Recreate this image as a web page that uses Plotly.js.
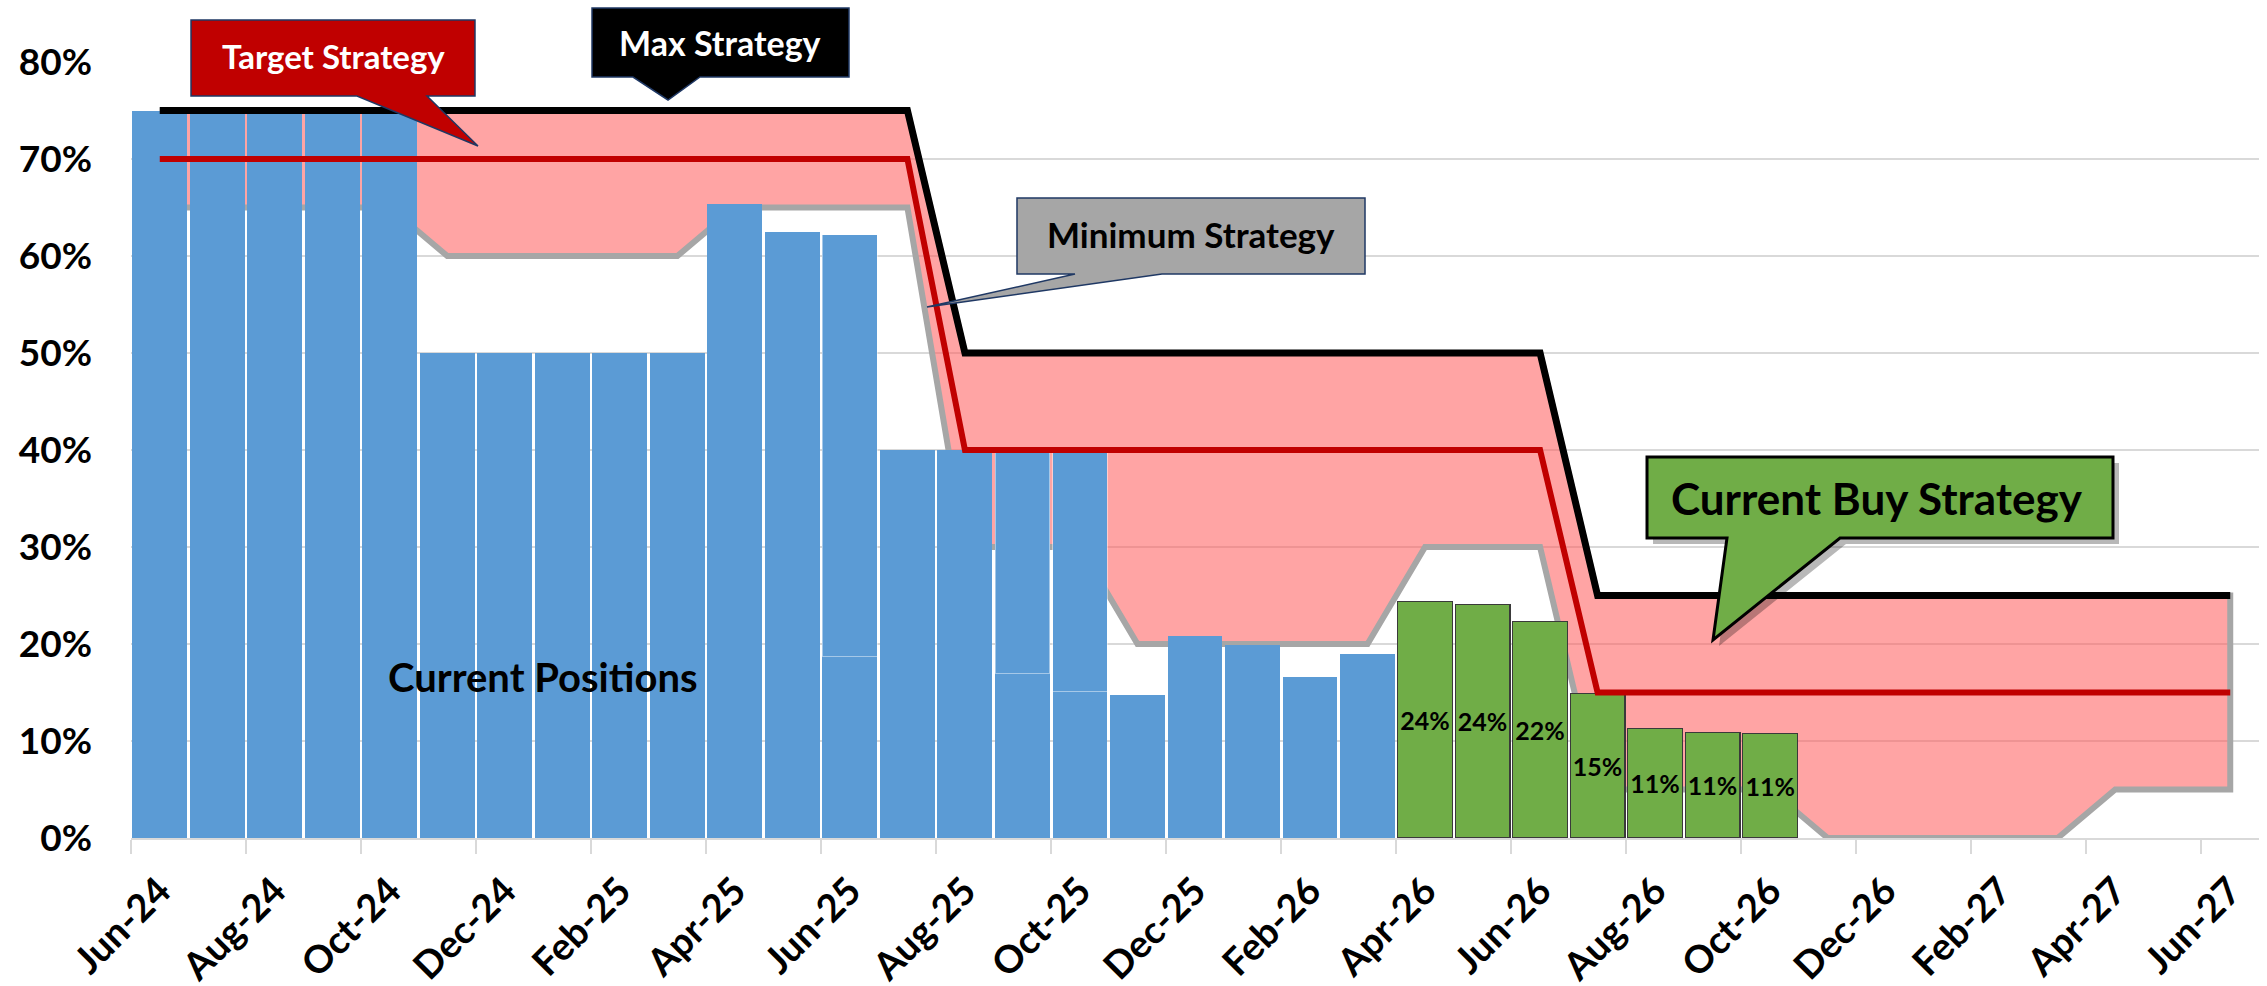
<!DOCTYPE html>
<html>
<head>
<meta charset="utf-8">
<script src="https://cdn.plot.ly/plotly-3.0.1.min.js"></script>
<style>
  html, body { margin: 0; padding: 0; background: #ffffff; }
  #chart { width: 2267px; height: 986px; }
</style>
</head>
<body>
<div id="chart"></div>
<script>
// ---------------- DATA ----------------
const months = ['Jun-24','Jul-24','Aug-24','Sep-24','Oct-24','Nov-24','Dec-24','Jan-25','Feb-25','Mar-25',
  'Apr-25','May-25','Jun-25','Jul-25','Aug-25','Sep-25','Oct-25','Nov-25','Dec-25','Jan-26',
  'Feb-26','Mar-26','Apr-26','May-26','Jun-26','Jul-26','Aug-26','Sep-26','Oct-26','Nov-26',
  'Dec-26','Jan-27','Feb-27','Mar-27','Apr-27','May-27','Jun-27'];

// Current positions (Jun-24 .. Mar-26)
const currentPositions = [0.75, 0.75, 0.75, 0.75, 0.75, 0.50, 0.50, 0.50, 0.50, 0.50,
  0.654, 0.625, 0.622, 0.40, 0.40, 0.40, 0.40, 0.147, 0.208, 0.199, 0.166, 0.190];
// lower stacked part of some position bars (null = single block)
const positionLowerPart = [null, null, null, null, null, null, null, null, null, null,
  null, null, 0.187, null, null, 0.170, 0.151, null, null, null, null, null];

// Current buy strategy (Apr-26 .. Oct-26)
const buyMonths = ['Apr-26','May-26','Jun-26','Jul-26','Aug-26','Sep-26','Oct-26'];
const buyStrategy = [0.244, 0.241, 0.223, 0.149, 0.113, 0.109, 0.108];

const maxStrategy = [0.75, 0.75, 0.75, 0.75, 0.75, 0.75, 0.75, 0.75, 0.75, 0.75, 0.75, 0.75, 0.75, 0.75,
  0.50, 0.50, 0.50, 0.50, 0.50, 0.50, 0.50, 0.50, 0.50, 0.50, 0.50,
  0.25, 0.25, 0.25, 0.25, 0.25, 0.25, 0.25, 0.25, 0.25, 0.25, 0.25, 0.25];
const targetStrategy = [0.70, 0.70, 0.70, 0.70, 0.70, 0.70, 0.70, 0.70, 0.70, 0.70, 0.70, 0.70, 0.70, 0.70,
  0.40, 0.40, 0.40, 0.40, 0.40, 0.40, 0.40, 0.40, 0.40, 0.40, 0.40,
  0.15, 0.15, 0.15, 0.15, 0.15, 0.15, 0.15, 0.15, 0.15, 0.15, 0.15, 0.15];
const minStrategy = [0.65, 0.65, 0.65, 0.65, 0.65, 0.60, 0.60, 0.60, 0.60, 0.60,
  0.65, 0.65, 0.65, 0.65, 0.30, 0.30, 0.30, 0.20, 0.20, 0.20, 0.20, 0.20,
  0.30, 0.30, 0.30, 0.05, 0.05, 0.05, 0.05, 0.00, 0.00, 0.00, 0.00, 0.00, 0.05, 0.05, 0.05];

const yTicks = [0, 0.1, 0.2, 0.3, 0.4, 0.5, 0.6, 0.7, 0.8];

// ---------------- BUILD ----------------
const idx = months.map((m, i) => i);
const posX = currentPositions.map((v, i) => i);
const buyX = buyMonths.map(m => months.indexOf(m));
const posBase = currentPositions.map((v, i) => positionLowerPart[i] != null ? positionLowerPart[i] : v);
const posTop = currentPositions.map((v, i) => positionLowerPart[i] != null ? v - positionLowerPart[i] : null);

const labelIdx = idx.filter(i => i % 2 === 0);
const boundaryTicks = labelIdx.map(i => i - 0.5);

const FONT = 'Lato, "Open Sans", "DejaVu Sans", sans-serif';
const BLUE = '#5B9BD5', GREEN = '#70AD47', RED = '#C00000', GREY = '#A6A6A6', PINK = 'rgba(255,90,90,0.55)';
const BARW = 0.955;

// pixel geometry of plot area (for callout shapes)
const M = {l: 131, r: 8, t: 62, b: 148};
const W = 2267, H = 986;
const pw = W - M.l - M.r, ph = H - M.t - M.b;
const px = x => (x - M.l) / pw;
const py = y => (H - M.b - y) / ph;
function calloutPath(box, base, tip) {
  // box: [x0,y0,x1,y1] (pixels, y down), base: [xa,xb] on bottom edge, tip: [x,y]
  const [x0, y0, x1, y1] = box;
  const pts = [[x0, y0], [x1, y0], [x1, y1], [base[1], y1], tip, [base[0], y1], [x0, y1]];
  return 'M ' + pts.map(p => px(p[0]).toFixed(5) + ',' + py(p[1]).toFixed(5)).join(' L ') + ' Z';
}

const traces = [
  // strategy band (max..min) with grey outline, drawn on bottom axes
  {
    type: 'scatter', mode: 'lines', xaxis: 'x', yaxis: 'y',
    x: idx.concat(idx.slice().reverse()),
    y: maxStrategy.concat(minStrategy.slice().reverse()),
    fill: 'toself', fillcolor: PINK,
    line: {color: GREY, width: 6},
    hoverinfo: 'skip', showlegend: false
  },
  // current positions
  {
    type: 'bar', xaxis: 'x2', yaxis: 'y2', x: posX, y: posBase, width: BARW,
    marker: {color: BLUE, line: {width: 0}}, showlegend: false, name: 'Current Positions'
  },
  {
    type: 'bar', xaxis: 'x2', yaxis: 'y2', x: posX, y: posTop, width: BARW,
    marker: {color: BLUE, line: {width: 1, color: 'rgba(255,255,255,0.45)'}}, showlegend: false, name: 'Current Positions'
  },
  // buy strategy
  {
    type: 'bar', xaxis: 'x2', yaxis: 'y2', x: buyX, y: buyStrategy, width: BARW,
    marker: {color: GREEN, line: {width: 1.2, color: '#3a3a3a'}},
    texttemplate: '%{y:.0%}', textposition: 'inside', insidetextanchor: 'middle',
    textangle: 0, constraintext: 'none', cliponaxis: false,
    textfont: {family: FONT, size: 25, color: '#000000', weight: 'bold'},
    showlegend: false, name: 'Current Buy Strategy'
  },
  // target
  {
    type: 'scatter', mode: 'lines', xaxis: 'x2', yaxis: 'y2', x: idx, y: targetStrategy,
    line: {color: RED, width: 6}, showlegend: false, name: 'Target Strategy'
  },
  // max
  {
    type: 'scatter', mode: 'lines', xaxis: 'x2', yaxis: 'y2', x: idx, y: maxStrategy,
    line: {color: '#000000', width: 7}, showlegend: false, name: 'Max Strategy'
  }
];

const NAVY = '#1F3864';
const shapes = [
  {type: 'path', xref: 'paper', yref: 'paper', layer: 'above',
   path: calloutPath([191, 20, 475, 96], [357, 427], [478, 146]),
   fillcolor: RED, line: {color: NAVY, width: 1.5}},
  {type: 'path', xref: 'paper', yref: 'paper', layer: 'above',
   path: calloutPath([592, 8, 849, 77], [633, 700], [668, 100]),
   fillcolor: '#000000', line: {color: NAVY, width: 1.5}},
  {type: 'path', xref: 'paper', yref: 'paper', layer: 'above',
   path: calloutPath([1017, 198, 1365, 274], [1075, 1162], [927, 307]),
   fillcolor: GREY, line: {color: NAVY, width: 1.5}},
  // shadow for current buy callout
  {type: 'path', xref: 'paper', yref: 'paper', layer: 'above',
   path: calloutPath([1653, 463, 2119, 544], [1733, 1846], [1719, 646]),
   fillcolor: 'rgba(0,0,0,0.28)', line: {width: 0}},
  {type: 'path', xref: 'paper', yref: 'paper', layer: 'above',
   path: calloutPath([1647, 457, 2113, 538], [1727, 1840], [1713, 640]),
   fillcolor: GREEN, line: {color: '#000000', width: 3}}
];

const annotations = [
  {xref: 'paper', yref: 'paper', x: px(333), y: py(56), xanchor: 'center', yanchor: 'middle', showarrow: false,
   text: '<b>Target Strategy</b>', font: {family: FONT, size: 33, color: '#ffffff'}},
  {xref: 'paper', yref: 'paper', x: px(720), y: py(42), xanchor: 'center', yanchor: 'middle', showarrow: false,
   text: '<b>Max Strategy</b>', font: {family: FONT, size: 34, color: '#ffffff'}},
  {xref: 'paper', yref: 'paper', x: px(1191), y: py(234), xanchor: 'center', yanchor: 'middle', showarrow: false,
   text: '<b>Minimum Strategy</b>', font: {family: FONT, size: 35, color: '#000000'}},
  {xref: 'paper', yref: 'paper', x: px(1877), y: py(498), xanchor: 'center', yanchor: 'middle', showarrow: false,
   text: '<b>Current Buy Strategy</b>', font: {family: FONT, size: 44, color: '#000000'}},
  {xref: 'paper', yref: 'paper', x: px(543), y: py(677), xanchor: 'center', yanchor: 'middle', showarrow: false,
   text: '<b>Current Positions</b>', font: {family: FONT, size: 40, color: '#000000'}}
];

const xrange = [-0.5, months.length - 0.5];
const yrange = [yTicks[0], yTicks[yTicks.length - 1]];

const layout = {
  width: W, height: H,
  margin: M,
  paper_bgcolor: '#ffffff', plot_bgcolor: '#ffffff',
  barmode: 'stack', bargap: 0,
  showlegend: false,
  xaxis: {
    type: 'linear', range: xrange, fixedrange: true,
    tickmode: 'array', tickvals: boundaryTicks, showticklabels: false,
    ticks: 'outside', ticklen: 14, tickwidth: 2, tickcolor: '#D9D9D9',
    showgrid: false, zeroline: false, showline: true, linecolor: '#D9D9D9', linewidth: 2
  },
  yaxis: {
    range: yrange, fixedrange: true,
    tickmode: 'array', tickvals: yTicks, tickformat: '.0%',
    tickfont: {family: FONT, size: 37, color: '#000000', weight: 'bold'},
    ticks: '', ticklabelstandoff: 38,
    showgrid: true, gridcolor: '#D9D9D9', gridwidth: 1.5, zeroline: false, showline: false
  },
  xaxis2: {
    type: 'linear', range: xrange, overlaying: 'x', anchor: 'y2', side: 'bottom', fixedrange: true,
    tickmode: 'array', tickvals: labelIdx, ticktext: labelIdx.map(i => months[i]),
    tickangle: -45, ticks: '', ticklabelstandoff: 22,
    tickfont: {family: FONT, size: 38, color: '#000000', weight: 'bold'},
    showgrid: false, zeroline: false, showline: false
  },
  yaxis2: {
    range: yrange, overlaying: 'y', anchor: 'x2', fixedrange: true,
    showgrid: false, zeroline: false, showline: false, showticklabels: false, ticks: ''
  },
  shapes: shapes,
  annotations: annotations
};

Plotly.newPlot('chart', traces, layout, {staticPlot: true, displayModeBar: false});
</script>
</body>
</html>
